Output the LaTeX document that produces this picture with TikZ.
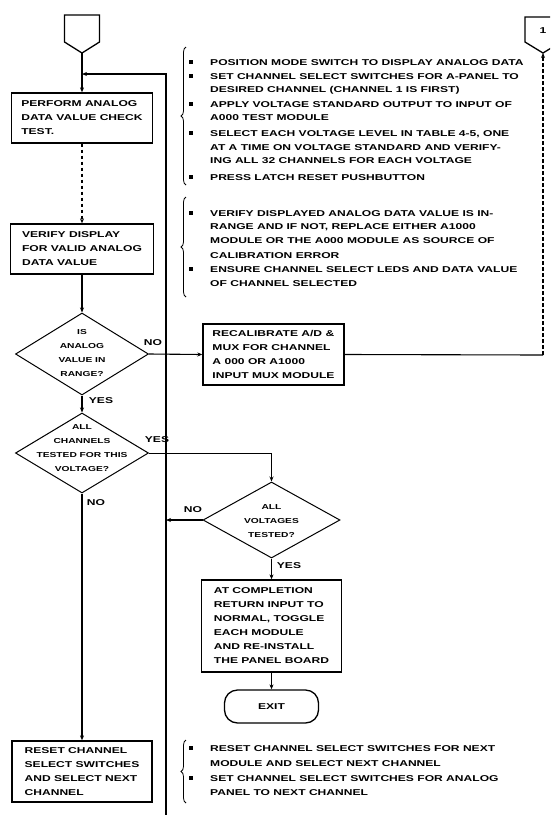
\documentclass[tikz,border=0pt]{standalone}
\usepackage{fontspec}
\setmainfont{Liberation Sans}[FakeStretch=1.42]
\usetikzlibrary{shapes.geometric,arrows.meta,decorations.pathreplacing}
\begin{document}
\begin{tikzpicture}[x=1pt,y=-1pt,
  txt/.style={font=\fontsize{8.5}{14}\selectfont\bfseries},
  proc/.style={draw, line width=1.3pt, align=left, inner sep=0pt, txt},
  dec/.style={draw, diamond, line width=1pt, inner sep=0pt},
  dtxt/.style={font=\fontsize{7.2}{14}\selectfont\bfseries, align=center, inner sep=0pt},
  lbl/.style={txt, inner sep=0pt},
  conn/.style={line width=1.1pt},
  arr/.style={conn,-{Stealth[length=5pt,width=4pt]}},
  note/.style={txt, anchor=base west, inner sep=0pt},
  bul/.style={fill, minimum size=4pt, inner sep=0pt},
  brc/.style={decorate, decoration={brace, amplitude=5pt}, line width=0.8pt}
]
\useasboundingbox (0,0) rectangle (550,815);
\clip (0,0) rectangle (550,815);

% off-page connectors
\coordinate (inA) at (82,53);
\draw[line width=1.3pt] (64.5,15) -- (99.5,15) -- (99.5,42) -- (inA) -- (64.5,42) -- cycle;
\coordinate (outT) at (543,53);
\draw[line width=1.3pt] (525,17) -- (561,17) -- (561,42) -- (outT) -- (525,42) -- cycle;
\node[lbl] (one) at (543,31) {1};

% left column
\node[proc, minimum width=141pt, minimum height=50pt] (b1) at (82,118) {PERFORM ANALOG\\DATA VALUE CHECK\\TEST.};
\node[proc, minimum width=143pt, minimum height=50pt] (b2) at (82,249) {VERIFY DISPLAY\\FOR VALID ANALOG\\DATA VALUE};
\node[dec, minimum width=133pt, minimum height=82pt] (d1) at (82,354) {};
\node[dtxt] (d1t) at (82,353) {IS\\ANALOG\\VALUE IN\\RANGE?};
\node[dec, minimum width=133pt, minimum height=80pt] (d2) at (82,453) {};
\node[dtxt] (d2t) at (82,448) {ALL\\CHANNELS\\TESTED FOR THIS\\VOLTAGE?};
\node[proc, minimum width=140pt, minimum height=61pt] (b3) at (82,771.5) {RESET CHANNEL\\SELECT SWITCHES\\AND SELECT NEXT\\CHANNEL};

% middle column
\node[proc, minimum width=141pt, minimum height=61pt] (m) at (273.5,354.5) {RECALIBRATE A/D \&\\MUX FOR CHANNEL\\A 000 OR A1000\\INPUT MUX MODULE};
\node[dec, minimum width=137pt, minimum height=76pt] (d3) at (271.5,520) {};
\node[dtxt] (d3t) at (271.5,521) {ALL\\VOLTAGES\\TESTED?};
\node[proc, minimum width=140pt, minimum height=92pt] (b4) at (271.5,626) {AT COMPLETION\\RETURN INPUT TO\\NORMAL, TOGGLE\\EACH MODULE\\AND RE-INSTALL\\THE PANEL BOARD};
\node[draw, line width=1.3pt, rounded corners=13pt, minimum width=94pt, minimum height=33pt, txt] (ex) at (271.5,706.5) {EXIT};

% loop line
\coordinate (lb) at (166,815);
\coordinate (lt) at (82,74);
\draw[line width=1.8pt, -{Stealth[length=5pt,width=4pt]}] (lb) |- (lt);
\coordinate (j3) at (166,520);

% connectors
\draw[arr] (inA) -- (b1.north);
\draw[arr, dash pattern=on 3pt off 3pt] (b1.south) -- (b2.north);
\draw[arr] (b2.south) -- (d1.north);
\draw[arr] (d1.east) -- (m.west);
\draw[arr] (d1.south) -- (d2.north);
\draw[arr, line width=0.8pt] (d2.east) -| (d3.north);
\draw[arr] (d2.south) -- (b3.north);
\draw[arr] (d3.west) -- (j3);
\draw[arr] (d3.south) -- (b4.north);
\draw[arr] (b4.south) -- (ex.north);
\coordinate (oc) at (543,355);
\draw[conn] (m.east) -- (oc);
\draw[arr, dash pattern=on 4pt off 2pt] (oc) -- (outT);

% branch labels
\node[lbl] (no1) at (153,343) {NO};
\node[lbl] (yes1) at (101,401) {YES};
\node[lbl] (yes2) at (157,440) {YES};
\node[lbl] (no2) at (96,503) {NO};
\node[lbl] (no3) at (193,510) {NO};
\node[lbl] (yes3) at (289,566) {YES};

% notes
\draw[brc] (186,185) -- (186,47);
\draw[brc] (186,297) -- (186,197);
\draw[brc] (186,803) -- (186,740);
\foreach \y [count=\i] in {62,76,104,133,177,213,269,748,778}
  \node[bul] (bu\i) at (191,\y) {};
\foreach \y/\t [count=\i] in {
  62/{POSITION MODE SWITCH TO DISPLAY ANALOG DATA},
  76/{SET CHANNEL SELECT SWITCHES FOR A-PANEL TO},
  89/{DESIRED CHANNEL (CHANNEL 1 IS FIRST)},
  104/{APPLY VOLTAGE STANDARD OUTPUT TO INPUT OF},
  117/{A000 TEST MODULE},
  133/{SELECT EACH VOLTAGE LEVEL IN TABLE 4-5, ONE},
  147/{AT A TIME ON VOLTAGE STANDARD AND VERIFY-},
  160/{ING ALL 32 CHANNELS FOR EACH VOLTAGE},
  177/{PRESS LATCH RESET PUSHBUTTON},
  213/{VERIFY DISPLAYED ANALOG DATA VALUE IS IN-},
  226/{RANGE AND IF NOT, REPLACE EITHER A1000},
  240/{MODULE OR THE A000 MODULE AS SOURCE OF},
  255/{CALIBRATION ERROR},
  269/{ENSURE CHANNEL SELECT LEDS AND DATA VALUE},
  283/{OF CHANNEL SELECTED},
  748/{RESET CHANNEL SELECT SWITCHES FOR NEXT},
  763/{MODULE AND SELECT NEXT CHANNEL},
  778/{SET CHANNEL SELECT SWITCHES FOR ANALOG},
  792/{PANEL TO NEXT CHANNEL}}
  \node[note] (nt\i) at (210,\y+3) {\t};
\end{tikzpicture}
\end{document}
